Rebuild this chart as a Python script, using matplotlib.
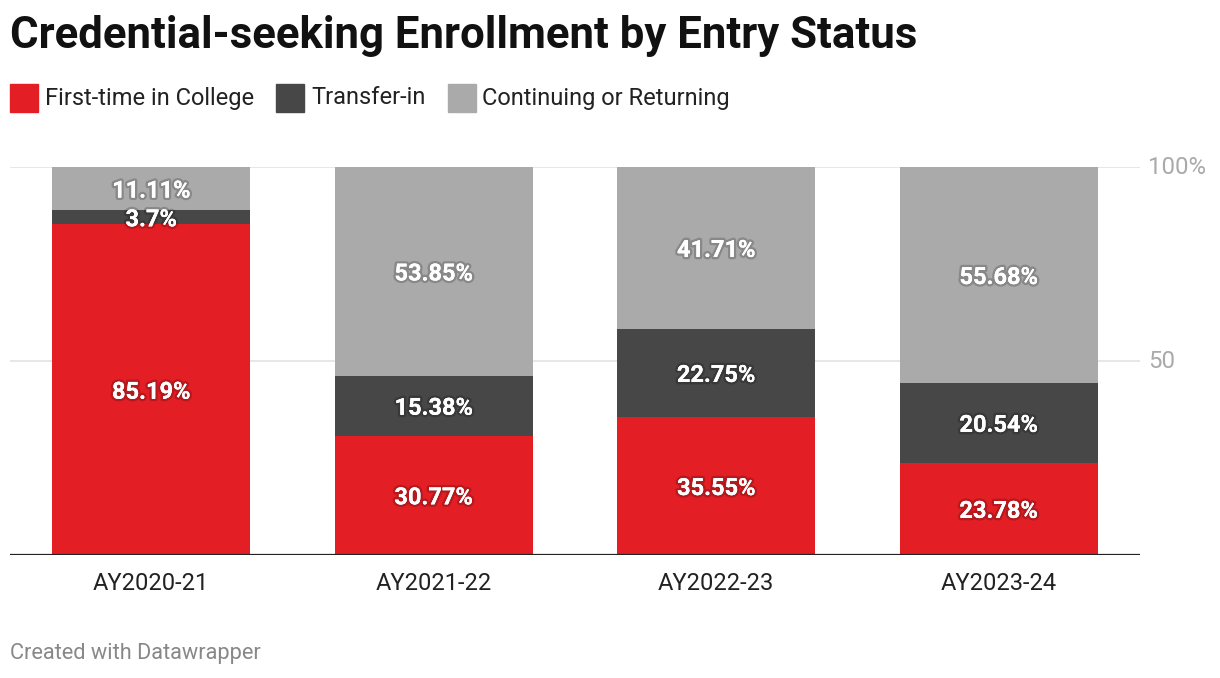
import matplotlib.pyplot as plt
import matplotlib.patches as mpatches
import matplotlib.patheffects as pe
import numpy as np

plt.rcParams['font.family'] = ['Roboto', 'DejaVu Sans']

years = ['AY2020-21', 'AY2021-22', 'AY2022-23', 'AY2023-24']
first_time = [85.19, 30.77, 35.55, 23.78]
transfer = [3.7, 15.38, 22.75, 20.54]
continuing = [11.11, 53.85, 41.71, 55.68]

series = [
    ('First-time in College', first_time, '#e31e25'),
    ('Transfer-in', transfer, '#474747'),
    ('Continuing or Returning', continuing, '#aaaaaa'),
]

fig = plt.figure(figsize=(12.2, 6.78), dpi=100)
ax = fig.add_axes([10 / 1220, 1 - 555 / 678, 1130 / 1220, 388 / 678])

x = np.arange(len(years))
bottom = np.zeros(len(years))
for name, vals, col in series:
    vals = np.array(vals)
    ax.bar(x, vals, bottom=bottom, width=0.7, color=col, zorder=2)
    for xi, b, v in zip(x, bottom, vals):
        ax.text(xi, b + v / 2, f'{v:g}%', ha='center', va='center_baseline', color='white',
                fontsize=17, fontweight='bold', zorder=4,
                path_effects=[pe.withStroke(linewidth=3.5, foreground=(0, 0, 0, 0.2)), pe.Normal()])
    bottom += vals

ax.set_xlim(-0.5, 3.5)
ax.set_ylim(0, 100)
for yv in [50, 100]:
    ax.axhline(yv, color='#e3e3e3', lw=1.2, zorder=1)
ax.axhline(0, color='#222222', lw=1.6, zorder=3)

for s in ax.spines.values():
    s.set_visible(False)
ax.set_yticks([])
ax.set_xticks(x)
ax.set_xticklabels(years, fontsize=17, color='#222222')
ax.tick_params(axis='x', length=0, pad=12)

ax.text(1.007, 100, '100%', transform=ax.get_yaxis_transform(), ha='left', va='center',
        fontsize=17.3, color='#aaaaaa')
ax.text(1.007, 50, '50', transform=ax.get_yaxis_transform(), ha='left', va='center',
        fontsize=17.3, color='#aaaaaa')

fig.text(10 / 1220, 1 - 36 / 678, 'Credential-seeking Enrollment by Entry Status',
         fontsize=31.5, fontweight='bold', ha='left', va='center', color='#111111')

# legend
lx = 10
for name, vals, col in series:
    fig.patches.append(mpatches.Rectangle((lx / 1220, 1 - 112 / 678), 28 / 1220, 28 / 678,
                                          transform=fig.transFigure, color=col, figure=fig))
    t = fig.text((lx + 35) / 1220, 1 - 98 / 678, name, fontsize=17, ha='left', va='center',
                 color='#222222')
    fig.canvas.draw()
    bb = t.get_window_extent()
    lx = bb.x1 + 22

fig.text(10 / 1220, 1 - 653 / 678, 'Created with Datawrapper', fontsize=15.7,
         ha='left', va='center', color='#888888')

fig.savefig('out.png', dpi=100)
